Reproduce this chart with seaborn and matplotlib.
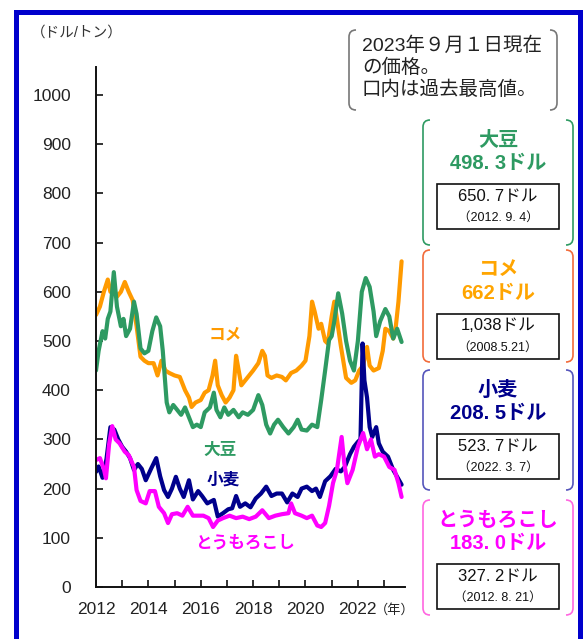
import numpy as np
import pandas as pd
import matplotlib
matplotlib.use("Agg")
import matplotlib.pyplot as plt
import seaborn as sns
from matplotlib.path import Path
from matplotlib.patches import PathPatch, Rectangle

# DATA (ドル/トン)
rice_year = [2012.00, 2012.15, 2012.30, 2012.45, 2012.55, 2012.65, 2012.80, 2012.95, 2013.10, 2013.25,
             2013.40, 2013.55, 2013.70, 2013.85, 2014.00, 2014.20, 2014.35, 2014.50, 2014.65, 2014.80,
             2015.00, 2015.20, 2015.40, 2015.55, 2015.65, 2015.80, 2016.00, 2016.15, 2016.30, 2016.45,
             2016.55, 2016.65, 2016.80, 2016.95, 2017.10, 2017.25, 2017.35, 2017.45, 2017.55, 2017.70,
             2017.85, 2018.00, 2018.20, 2018.35, 2018.45, 2018.55, 2018.70, 2018.90, 2019.10, 2019.25,
             2019.45, 2019.65, 2019.85, 2020.00, 2020.15, 2020.25, 2020.35, 2020.50, 2020.60, 2020.75,
             2020.85, 2021.00, 2021.10, 2021.20, 2021.35, 2021.55, 2021.75, 2021.90, 2022.05, 2022.20,
             2022.35, 2022.45, 2022.60, 2022.80, 2022.95, 2023.05, 2023.20, 2023.35, 2023.45, 2023.55,
             2023.67]
rice = [553, 570, 600, 625, 600, 610, 590, 600, 620, 600,
        583, 530, 468, 460, 455, 455, 430, 460, 440, 435,
        430, 427, 400, 385, 366, 375, 380, 395, 400, 430,
        460, 410, 390, 375, 385, 400, 470, 440, 410, 420,
        430, 440, 455, 480, 470, 430, 425, 430, 427, 420,
        435, 440, 450, 460, 510, 580, 560, 525, 535, 500,
        495, 550, 580, 545, 490, 425, 415, 420, 440, 450,
        488, 450, 440, 445, 480, 525, 520, 505, 530, 580,
        662]

soy_year = [2012.00, 2012.10, 2012.25, 2012.35, 2012.45, 2012.55, 2012.68, 2012.80, 2012.95, 2013.05,
            2013.15, 2013.30, 2013.45, 2013.55, 2013.70, 2013.85, 2014.00, 2014.15, 2014.30, 2014.45,
            2014.55, 2014.70, 2014.80, 2014.95, 2015.10, 2015.25, 2015.40, 2015.55, 2015.70, 2015.85,
            2016.00, 2016.15, 2016.35, 2016.50, 2016.60, 2016.75, 2016.90, 2017.05, 2017.25, 2017.45,
            2017.60, 2017.80, 2018.00, 2018.20, 2018.35, 2018.50, 2018.65, 2018.80, 2018.95, 2019.15,
            2019.35, 2019.55, 2019.70, 2019.85, 2020.05, 2020.25, 2020.45, 2020.60, 2020.75, 2020.90,
            2021.00, 2021.10, 2021.25, 2021.40, 2021.55, 2021.70, 2021.85, 2022.00, 2022.15, 2022.30,
            2022.45, 2022.60, 2022.70, 2022.85, 2023.05, 2023.20, 2023.35, 2023.50, 2023.67]
soy = [440, 480, 520, 505, 545, 560, 640, 570, 530, 545,
       510, 525, 580, 555, 485, 475, 480, 520, 548, 530,
       480, 375, 355, 370, 360, 350, 365, 345, 325, 330,
       325, 355, 365, 395, 360, 345, 365, 350, 360, 345,
       355, 350, 360, 390, 370, 330, 312, 330, 340, 325,
       312, 325, 340, 320, 318, 330, 325, 380, 440, 502,
       510, 540, 597, 556, 500, 460, 440, 500, 600, 628,
       610, 560, 510, 540, 565, 550, 505, 525, 498]

wheat_year = [2012.00, 2012.10, 2012.25, 2012.40, 2012.55, 2012.70, 2012.85, 2013.00, 2013.15, 2013.30,
              2013.45, 2013.60, 2013.75, 2013.90, 2014.10, 2014.30, 2014.45, 2014.60, 2014.75, 2014.90,
              2015.05, 2015.20, 2015.35, 2015.55, 2015.70, 2015.90, 2016.05, 2016.25, 2016.50, 2016.65,
              2016.85, 2017.05, 2017.20, 2017.35, 2017.50, 2017.70, 2017.90, 2018.10, 2018.30, 2018.50,
              2018.70, 2018.90, 2019.10, 2019.30, 2019.50, 2019.70, 2019.85, 2020.05, 2020.25, 2020.40,
              2020.55, 2020.75, 2020.95, 2021.15, 2021.35, 2021.50, 2021.70, 2021.85, 2022.00, 2022.10,
              2022.18, 2022.25, 2022.35, 2022.45, 2022.55, 2022.70, 2022.80, 2022.95, 2023.15, 2023.35,
              2023.50, 2023.67]
wheat = [234, 245, 222, 260, 325, 320, 300, 285, 275, 262,
         238, 250, 240, 217, 240, 262, 225, 197, 183, 200,
         224, 200, 183, 217, 178, 195, 185, 170, 177, 143,
         150, 158, 160, 185, 163, 170, 162, 180, 190, 204,
         185, 190, 190, 172, 190, 183, 200, 204, 195, 200,
         183, 215, 225, 240, 235, 244, 270, 285, 295, 300,
         495, 420, 385, 325, 305, 325, 292, 275, 265, 238,
         224, 208]

corn_year = [2012.00, 2012.15, 2012.30, 2012.38, 2012.50, 2012.62, 2012.75, 2012.90, 2013.10, 2013.25,
             2013.45, 2013.55, 2013.70, 2013.90, 2014.05, 2014.25, 2014.40, 2014.60, 2014.75, 2014.90,
             2015.10, 2015.30, 2015.50, 2015.70, 2015.90, 2016.10, 2016.30, 2016.47, 2016.65, 2016.85,
             2017.10, 2017.35, 2017.60, 2017.85, 2018.10, 2018.35, 2018.60, 2018.85, 2019.10, 2019.35,
             2019.45, 2019.60, 2019.85, 2020.05, 2020.25, 2020.45, 2020.60, 2020.75, 2020.90, 2021.05,
             2021.20, 2021.38, 2021.48, 2021.60, 2021.80, 2022.00, 2022.20, 2022.35, 2022.50, 2022.65,
             2022.80, 2023.00, 2023.20, 2023.40, 2023.55, 2023.67]
corn = [258, 262, 240, 221, 290, 327, 300, 292, 275, 268,
        244, 197, 175, 170, 195, 195, 163, 150, 130, 148,
        150, 145, 163, 145, 145, 145, 140, 122, 135, 140,
        145, 140, 143, 138, 143, 156, 140, 145, 148, 150,
        170, 150, 145, 140, 145, 125, 122, 130, 165, 211,
        238, 305, 252, 211, 238, 285, 313, 280, 300, 265,
        270, 265, 244, 238, 211, 183]

crops = ["コメ", "大豆", "小麦", "とうもろこし"]
colors = {"コメ": "#FF9A00", "大豆": "#2E9A62", "小麦": "#00008C", "とうもろこし": "#FF00FF"}

df = pd.concat([
    pd.DataFrame({"year": rice_year, "price": rice, "crop": "コメ"}),
    pd.DataFrame({"year": soy_year, "price": soy, "crop": "大豆"}),
    pd.DataFrame({"year": wheat_year, "price": wheat, "crop": "小麦"}),
    pd.DataFrame({"year": corn_year, "price": corn, "crop": "とうもろこし"}),
])

sns.set_theme(style="white")
plt.rcParams['font.family'] = ['Liberation Sans', 'Noto Sans CJK JP', 'DejaVu Sans']

W, H = 587, 639
fig = plt.figure(figsize=(W / 100, H / 100), dpi=100)


def px(x, y):
    # pixel (from top-left) -> figure fraction
    return x / W, 1 - y / H


ax = fig.add_axes([96 / W, 1 - 587 / H, (405 - 96) / W, (587 - 67) / H])

sns.lineplot(data=df, x="year", y="price", hue="crop", hue_order=crops,
             palette=colors, sort=False, estimator=None, linewidth=3.0,
             legend=False, ax=ax)

ax.set_xlim(2012, 2023.8)
ax.set_ylim(0, 1057)
ax.set_xticks(range(2012, 2024, 2))
ax.set_xticks(range(2012, 2024), minor=True)
ax.set_yticks(range(0, 1001, 100))
ax.set_xlabel("")
ax.set_ylabel("")
for s in ["top", "right"]:
    ax.spines[s].set_visible(False)
for s in ["left", "bottom"]:
    ax.spines[s].set_color("#111111")
    ax.spines[s].set_linewidth(1.4)
ax.tick_params(axis="both", which="both", direction="in", length=5, width=1.2,
               color="#111111", labelsize=12.5, labelcolor="#222222")
ax.tick_params(axis="y", pad=18, left=True)
ax.tick_params(axis="x", pad=11, bottom=True)
ax.tick_params(axis="x", which="minor", bottom=True)

# series names inside the plot
ax.text(2016.92, 512, "コメ", color=colors["コメ"], fontsize=12, fontweight="bold",
        ha="center", va="center")
ax.text(2016.73, 278, "大豆", color=colors["大豆"], fontsize=12, fontweight="bold",
        ha="center", va="center")
ax.text(2016.85, 217, "小麦", color=colors["小麦"], fontsize=12, fontweight="bold",
        ha="center", va="center")
ax.text(2017.7, 91, "とうもろこし", color=colors["とうもろこし"], fontsize=12, fontweight="bold",
        ha="center", va="center")

fig.text(*px(31, 33), "（ドル/トン）", fontsize=10.5, color="#333333", ha="left", va="center")
fig.text(*px(375, 610), "（年）", fontsize=9.5, color="#222222", ha="left", va="center")


def bracket(x0, x1, y0, y1, color, hook=7):
    for side in (0, 1):
        xe = x0 if side == 0 else x1
        d = hook if side == 0 else -hook
        verts = [px(xe + d, y0), px(xe, y0), px(xe, y0 + hook),
                 px(xe, y1 - hook), px(xe, y1), px(xe + d, y1)]
        codes = [Path.MOVETO, Path.CURVE3, Path.CURVE3,
                 Path.LINETO, Path.CURVE3, Path.CURVE3]
        fig.add_artist(PathPatch(Path(verts, codes), fill=False, edgecolor=color,
                                 linewidth=1.2, transform=fig.transFigure))


def box(x0, x1, y0, y1):
    fx, fy = px(x0, y1)
    fig.add_artist(Rectangle((fx, fy), (x1 - x0) / W, (y1 - y0) / H, fill=False,
                             edgecolor="#111111", linewidth=1.2, transform=fig.transFigure))


# note box
bracket(349, 557, 30, 110, "#777777")
note = ["2023年９月１日現在", "の価格。", "口内は過去最高値。"]
for i, line in enumerate(note):
    fig.text(*px(362, 46 + i * 22), line, fontsize=14, color="#222222", ha="left", va="center")

# right panels: name, current price, record high
panels = [
    ("大豆", "498. 3ドル", "650. 7ドル", "（2012. 9. 4）", "#2E9A62", "#2E9A62", 120, 245),
    ("コメ", "662ドル", "1,038ドル", "（2008.5.21）", "#FFA500", "#F26B3A", 250, 362),
    ("小麦", "208. 5ドル", "523. 7ドル", "（2022. 3. 7）", "#00008C", "#5555BB", 370, 490),
    ("とうもろこし", "183. 0ドル", "327. 2ドル", "（2012. 8. 21）", "#FF00FF", "#FF66E0", 500, 615),
]
for name, now, high, date, tcol, bcol, top, bot in panels:
    bracket(423, 573, top, bot, bcol)
    fig.text(*px(498, top + 20), name, fontsize=14.5, fontweight="bold", color=tcol,
             ha="center", va="center")
    fig.text(*px(498, top + 43), now, fontsize=14.5, fontweight="bold", color=tcol,
             ha="center", va="center")
    box(437, 559, top + 64, top + 109)
    fig.text(*px(498, top + 76), high, fontsize=12, color="#111111", ha="center", va="center")
    fig.text(*px(498, top + 98), date, fontsize=9, color="#111111", ha="center", va="center")

# blue frame round the picture
fig.add_artist(Rectangle(px(16, 660), (580 - 16) / W, (660 - 12) / H, fill=False,
                         edgecolor="#0000CC", linewidth=3.6, transform=fig.transFigure))

fig.savefig("out.png", dpi=100, facecolor="white")
